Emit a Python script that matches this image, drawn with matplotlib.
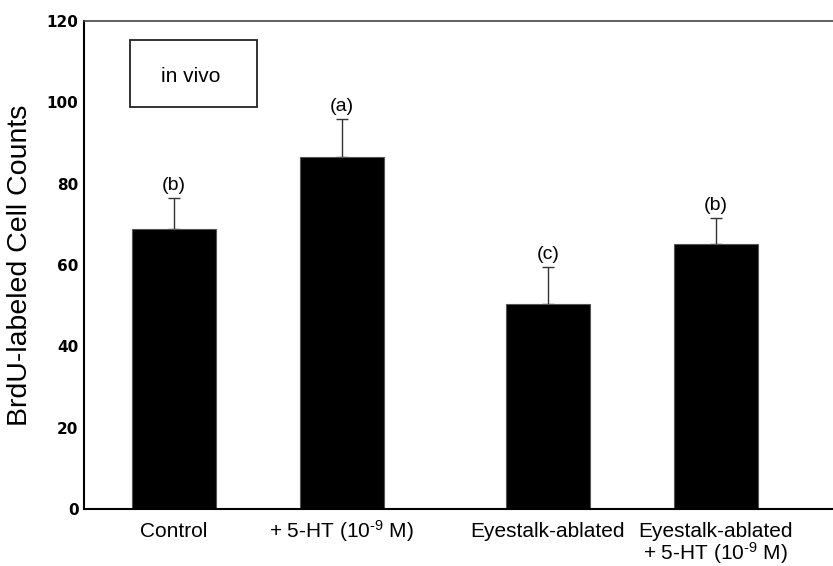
import matplotlib
matplotlib.use("Agg")
import matplotlib.pyplot as plt
from matplotlib.patches import Rectangle
from matplotlib.transforms import offset_copy

plt.rcParams["mathtext.fontset"] = "custom"
plt.rcParams["mathtext.rm"] = "Liberation Sans"
plt.rcParams["mathtext.it"] = "Liberation Sans:italic"
plt.rcParams["mathtext.bf"] = "Liberation Sans:bold"

categories = ["Control", r"+ 5-HT (10$^{\text{-9}}$ M)", "Eyestalk-ablated",
              "Eyestalk-ablated\n" + r"+ 5-HT (10$^{\text{-9}}$ M)"]
values = [68.8, 86.6, 50.4, 65.2]
errors = [7.6, 9.2, 9.0, 6.3]
letters = ["(b)", "(a)", "(c)", "(b)"]
yticks = [0, 20, 40, 60, 80, 100, 120]

positions = [0, 1.0, 2.23, 3.23]

fig = plt.figure(figsize=(8.33, 5.66), dpi=100)
ax = fig.add_axes([0.1008, 0.1007, 0.8992, 0.8623])

ax.bar(positions, values, width=0.5, color="black", edgecolor="#555555",
       linewidth=0.8, zorder=2)
ax.errorbar(positions, values, yerr=[[0] * len(values), errors], fmt="none",
            ecolor="#333333", elinewidth=1.0, capsize=4, capthick=1.0, zorder=1)

for x, v, e, t in zip(positions, values, errors, letters):
    ax.annotate(t, (x, v + e), xytext=(0, 3), textcoords="offset points",
                ha="center", va="bottom", fontsize=14,
                family="Liberation Sans")

ax.set_xlim(-0.537, 3.93)
ax.set_ylim(0, 120)
ax.set_yticks(yticks)
ax.set_yticklabels([str(t) for t in yticks], fontsize=11, fontweight="bold",
                   family="DejaVu Sans")
ax.set_xticks(positions)
ax.set_xticklabels([])
ax.tick_params(axis="both", length=0)
ax.tick_params(axis="y", pad=4)

# category labels, drawn line by line so that the first lines share a baseline
xform = ax.get_xaxis_transform()
for x, lab in zip(positions, categories):
    for i, line in enumerate(lab.split("\n")):
        tr = offset_copy(xform, fig=fig, x=0, y=-(20.5 + 16.0 * i), units="points")
        ax.text(x, 0, line, transform=tr, ha="center", va="baseline",
                fontsize=15, family="Liberation Sans", clip_on=False)

ax.set_ylabel("BrdU-labeled Cell Counts", fontsize=20.5,
              family="Liberation Sans")
ax.yaxis.set_label_coords((33 - 84) / 749, 0.5)

ax.spines["right"].set_visible(False)
ax.spines["left"].set_linewidth(1.5)
ax.spines["bottom"].set_linewidth(1.5)
ax.spines["top"].set_linewidth(1.2)
ax.spines["top"].set_color("#444444")

# "in vivo" box
box = Rectangle((130 / 833, 1 - 107 / 566), 127 / 833, 67 / 566,
                transform=fig.transFigure, fill=False, edgecolor="#222222",
                linewidth=1.3)
fig.patches.append(box)
fig.text(191 / 833, 1 - 76 / 566, "in vivo", ha="center", va="center",
         fontsize=15, family="Liberation Sans")

fig.savefig("out.png", dpi=100)
